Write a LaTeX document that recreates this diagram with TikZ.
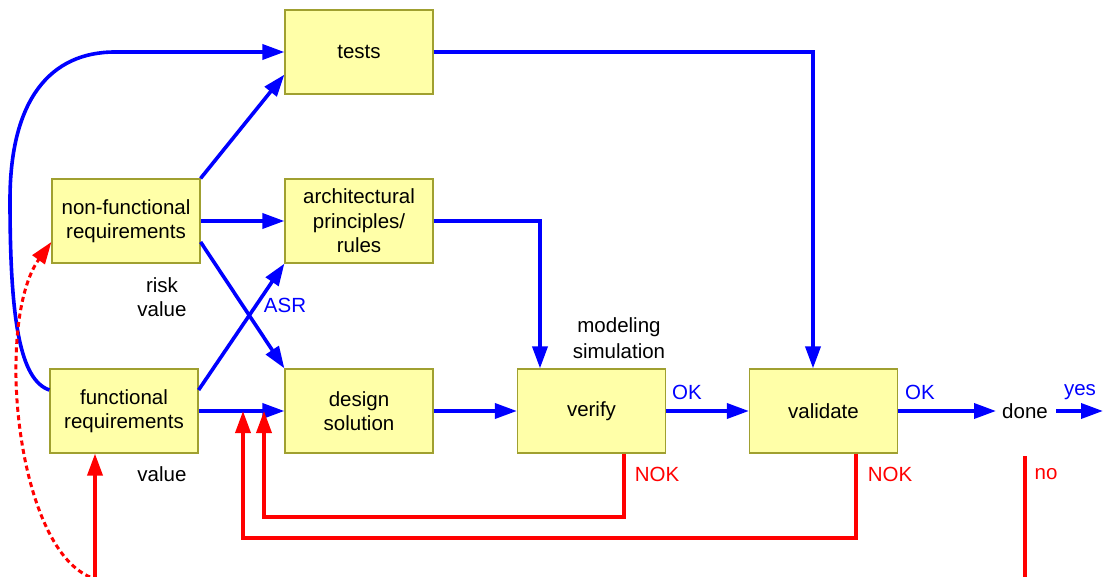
\documentclass[tikz,border=0pt]{standalone}
\usepackage{fontspec}
\setmainfont{Liberation Sans}
\usetikzlibrary{arrows.meta}
\definecolor{boxfill}{HTML}{FFFFA8}
\definecolor{boxline}{HTML}{A0A030}
\begin{document}
\begin{tikzpicture}[x=1pt,y=-1pt,
  font=\fontsize{20.5}{24.5}\selectfont,
  box/.style={draw=boxline,fill=boxfill,line width=1.2pt,minimum width=148pt,minimum height=84pt,inner sep=0pt,align=center},
  lbl/.style={inner sep=0pt,align=center},
  flow/.style={draw=blue,line width=3.6pt,-{Triangle[length=22pt,width=15pt]}},
  back/.style={draw=red,line width=3.6pt,-{Triangle[length=22pt,width=15pt]}},
  plain/.style={line width=3.6pt}]
\useasboundingbox (0,0) rectangle (1103,577);

% boxes
\node[box] (tests) at (359,52) {tests};
\node[box] (nf) at (126,221) {non-functional\\requirements};
\node[box] (arch) at (359,221) {architectural\\principles/\\rules};
\node[box] (fr) at (124,411) {functional\\requirements};
\node[box] (design) at (359,411) {design\\solution};
\node[box] (verify) at (591.5,411) {verify};
\node[box] (validate) at (823.5,411) {validate};
\node[lbl] (done) at (1025,411) {done};

% free ends
\coordinate (yesend) at (1103,411);
\coordinate (nostart) at (1025,456);
\coordinate (noend) at (1025,577);
\coordinate (frin) at (95,577);
\coordinate (nfin) at (90,577);

% labels
\node[lbl] (risk) at (162,285) {risk};
\node[lbl] (riskval) at (162,309) {value};
\node[lbl] (frval) at (162,474) {value};
\node[lbl,text=blue] (asr) at (285,305) {ASR};
\node[lbl] (model) at (619,327) {modeling};
\node[lbl] (sim) at (619,351) {simulation};
\node[lbl,text=blue] (ok1) at (687,392) {OK};
\node[lbl,text=blue] (ok2) at (920,392) {OK};
\node[lbl,text=blue] (yes) at (1080,392) {yes};
\node[lbl,text=red] (nok1) at (657,474) {NOK};
\node[lbl,text=red] (nok2) at (890,474) {NOK};
\node[lbl,text=red] (no) at (1046,474) {no};

% forward flow
\draw[flow] ([yshift=21pt]fr.west) .. controls (20,380) and (10,320) .. (10,200)
  .. controls (10,100) and (50,52) .. (115,52) -- (tests.west);
\draw[flow] (nf.north east) -- ([yshift=20pt]tests.south west);
\draw[flow] (nf.east) -- (arch.west);
\draw[flow] ([yshift=-21pt]nf.east) -- (design.north west);
\draw[flow] ([yshift=21pt]fr.east) -- (arch.south west);
\draw[flow] (fr.east) -- (design.west);
\draw[flow] (tests.east) -| ([xshift=-10.5pt]validate.north);
\draw[flow] (arch.east) -| ([xshift=-51.5pt]verify.north);
\draw[flow] (design.east) -- (verify.west);
\draw[flow] (verify.east) -- (validate.west);
\draw[flow] (validate.east) -- ([xshift=-6pt]done.west);
\draw[flow] ([xshift=8pt]done.east) -- (yesend);

% feedback
\draw[back] ([xshift=32.5pt]verify.south) |- (264,517) -- (264,411);
\draw[back] ([xshift=32.5pt]validate.south) |- (243,538) -- (243,411);
\draw[red,plain] (nostart) -- (noend);
\draw[back] (frin) -- ([xshift=-29pt]fr.south);
\draw[back,line width=3pt,dash pattern=on 5pt off 3.5pt] (nfin) .. controls (15,545) and (-5,320) .. ([yshift=-21pt]nf.west);
\end{tikzpicture}
\end{document}
